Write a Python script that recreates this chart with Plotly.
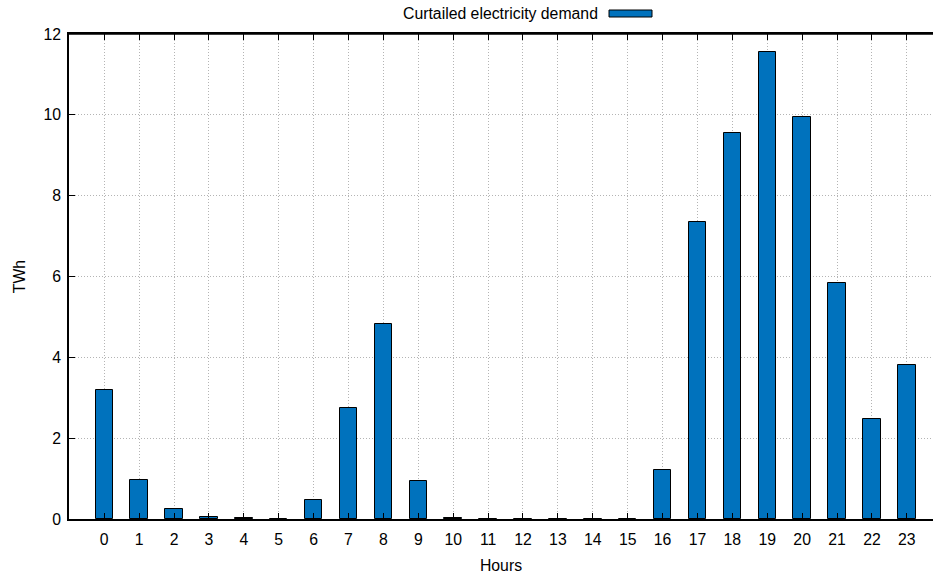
import plotly.graph_objects as go

hours = list(range(24))
tick_labels = [str(h) for h in hours]
curtailed_twh = [3.18, 0.96, 0.24, 0.05, 0.02, 0.01, 0.47, 2.75, 4.83, 0.93,
                 0.03, 0.0, 0.0, 0.0, 0.0, 0.0, 1.21, 7.36, 9.55, 11.56,
                 9.95, 5.85, 2.48, 3.80]
y_ticks = [0, 2, 4, 6, 8, 10, 12]

BAR_COLOR = "#0072BD"
FONT = "Liberation Sans, Arial, sans-serif"
FS = 15.8
GRID = dict(showgrid=True, gridcolor="#b4b4b4", griddash="1px,2px", gridwidth=1)

fig = go.Figure()
fig.add_trace(go.Bar(
    x=hours, y=curtailed_twh, width=0.5,
    marker=dict(color=BAR_COLOR, line=dict(color="black", width=1)),
    name="Curtailed electricity demand", showlegend=False,
))

fig.update_layout(
    width=933, height=577,
    margin=dict(l=69, r=0, t=34, b=58),
    plot_bgcolor="white", paper_bgcolor="white",
    font=dict(family=FONT, size=FS, color="black"),
    bargap=0,
    xaxis=dict(
        range=[-1.01, 23.75], tickmode="array", tickvals=hours, ticktext=tick_labels,
        ticks="inside", ticklen=6, tickcolor="black", mirror="ticks",
        showline=True, linecolor="black", linewidth=1.5,
        zeroline=False, automargin=False,
        tickfont=dict(size=FS), ticklabelstandoff=5,
        title=dict(text="Hours", standoff=13, font=dict(size=FS)),
        **GRID,
    ),
    yaxis=dict(
        range=[0, 12], tickmode="array", tickvals=y_ticks,
        ticks="inside", ticklen=6, tickcolor="black",
        showline=True, linecolor="black", linewidth=1.5,
        zeroline=False, automargin=False,
        tickfont=dict(size=FS), ticklabelstandoff=3,
        title=dict(text="TWh", standoff=14, font=dict(size=FS)),
        **GRID,
    ),
    annotations=[dict(
        text="Curtailed electricity demand", xref="paper", yref="paper",
        x=(600 - 69) / 864, y=1 + (34 - 14) / 485, xanchor="right", yanchor="middle",
        showarrow=False, font=dict(size=FS),
    )],
    shapes=[
        dict(type="rect", xref="paper", yref="paper",
             x0=(609 - 69) / 864, x1=(652 - 69) / 864,
             y0=1 + (34 - 17) / 485, y1=1 + (34 - 10) / 485,
             fillcolor=BAR_COLOR, line=dict(color="black", width=1)),
        dict(type="line", xref="paper", yref="paper", x0=0, x1=1, y0=1, y1=1,
             line=dict(color="black", width=1.5)),
    ],
)

fig.write_html("out.html", config={"displayModeBar": False},
               post_script="document.body.style.margin='0';")
